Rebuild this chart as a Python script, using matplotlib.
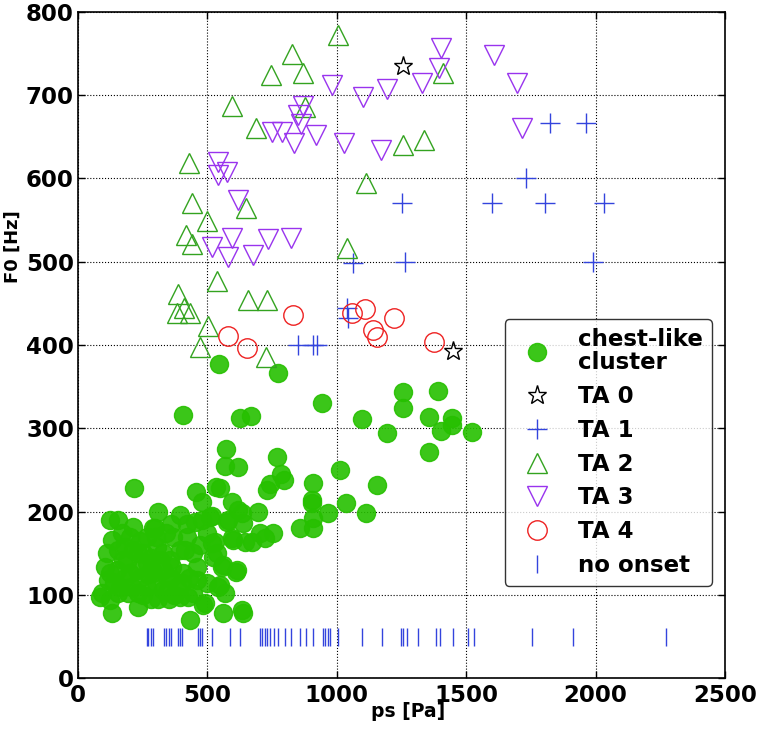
import matplotlib
matplotlib.use("Agg")
import matplotlib.pyplot as plt
import numpy as np

# chest-like cluster (green filled circles)
chest_x = [546, 771, 404, 625, 667, 944, 1096, 1195, 1257, 1257,
           1392, 1357, 1444, 1401, 1444, 1521, 1357,
           571, 568, 617, 770, 786, 796, 741, 731,
           1012, 909, 902, 905, 1154, 1034, 1112, 967, 909, 909, 857,
           216, 455, 480, 533, 548, 593, 619, 694, 516, 574, 638,
           754, 703, 722, 671, 593, 529, 535, 561, 610, 548, 568,
           497, 484, 561, 636, 432,
           310, 394, 452, 213, 291, 123, 155, 130, 155, 104, 123,
           85, 123, 132, 233, 194, 265, 329, 394, 445,
           213, 252, 304, 355, 394, 419, 265, 226, 291, 342, 406,
           458, 445, 368, 175, 265, 316, 381, 162, 200, 458,
           632, 645, 613, 297, 181, 117, 91, 156, 233, 349, 426,
           542, 555, 516, 362, 284, 413, 600, 580, 510, 522, 490, 632,
           180, 210, 240, 270, 300, 330, 360, 250, 280, 310, 350,
           150, 190, 230, 280, 330, 300, 240, 200, 170, 110, 140,
           370, 400, 430, 470, 500, 480, 420, 360, 340]
chest_y = [377, 366, 316, 312, 315, 331, 311, 294, 344, 325,
           345, 314, 313, 297, 304, 296, 272,
           275, 255, 254, 266, 245, 238, 233, 226,
           250, 235, 214, 210, 232, 211, 199, 198, 192, 180, 181,
           229, 224, 212, 230, 228, 212, 202, 200, 195, 188, 186,
           174, 174, 168, 164, 168, 164, 150, 136, 128, 112, 102,
           114, 88, 78, 78, 70,
           200, 196, 188, 182, 180, 190, 190, 166, 154, 134, 126,
           98, 94, 78, 86, 102, 110, 106, 98, 102,
           154, 150, 158, 142, 154, 170, 170, 130, 126, 122, 126,
           134, 150, 170, 142, 138, 142, 110, 110, 126, 118,
           198, 164, 130, 180, 158, 118, 102, 102, 102, 106, 98,
           110, 134, 162, 134, 130, 154, 166, 190, 194, 146, 90, 82,
           120, 110, 120, 125, 115, 130, 120, 100, 95, 95, 95,
           130, 140, 150, 145, 150, 170, 165, 170, 175, 150, 115,
           100, 115, 120, 160, 175, 190, 185, 185, 175]

ta0_x = [1257, 1450]
ta0_y = [735, 393]

ta1_x = [1823, 1961, 1731, 1250, 1600, 1804, 2033, 1263, 1991, 1063,
         1038, 1044, 851, 909, 925]
ta1_y = [667, 667, 600, 571, 571, 571, 571, 500, 500, 499,
         444, 432, 400, 400, 400]

ta2_x = [1005, 828, 745, 868, 596, 877, 686, 428, 1257, 1338,
         1111, 439, 648, 497, 417, 439, 1038, 538, 387, 381,
         432, 655, 729, 503, 471, 725, 1409, 410]
ta2_y = [772, 749, 724, 726, 687, 686, 661, 618, 640, 646,
         594, 570, 564, 549, 532, 521, 516, 477, 461, 438,
         438, 454, 454, 423, 398, 386, 727, 445]

ta3_x = [982, 1102, 1195, 1330, 1402, 1396, 1608, 1695, 1714, 870,
         851, 860, 750, 787, 835, 918, 1027, 1170, 539, 542,
         574, 617, 596, 519, 578, 677, 735, 821]
ta3_y = [712, 698, 707, 714, 756, 732, 748, 714, 660, 687,
         676, 665, 656, 656, 642, 652, 642, 634, 620, 604,
         608, 574, 528, 518, 506, 508, 527, 528]

ta4_x = [578, 654, 832, 1057, 1109, 1221, 1141, 1154, 1376]
ta4_y = [411, 397, 436, 438, 443, 433, 418, 410, 404]

no_onset_x = [265, 271, 280, 291, 333, 340, 353, 358, 387, 394, 403, 465,
              471, 480, 516, 587, 626, 703, 709, 722, 731, 741, 757, 774,
              800, 821, 857, 881, 906, 947, 954, 967, 973, 1005, 1096, 1173,
              1247, 1254, 1270, 1315, 1382, 1398, 1450, 1508, 1530, 1753,
              1913, 2272]
no_onset_level = 50

x_ticks = [0, 500, 1000, 1500, 2000, 2500]
y_ticks = [0, 100, 200, 300, 400, 500, 600, 700, 800]

plt.rcParams['font.family'] = ['DejaVu Sans']
plt.rcParams['font.weight'] = 'bold'

fig = plt.figure(figsize=(7.59, 7.34), dpi=100)
ax = fig.add_axes([0.1029, 0.0757, 0.8523, 0.9083])

green = '#26c000'
ax.plot(chest_x, chest_y, 'o', color=green, mec=green, ms=13, alpha=0.9,
        ls='none', label='chest-like\ncluster')
ax.plot(ta0_x, ta0_y, '*', mfc='none', mec='black', mew=1.0, ms=14,
        ls='none', label='TA 0')
ax.plot(ta1_x, ta1_y, '+', color='#3344dd', mew=1.0, ms=14,
        ls='none', label='TA 1')
ax.plot(ta2_x, ta2_y, '^', mfc='none', mec='#33a320', mew=1.0, ms=14,
        ls='none', label='TA 2')
ax.plot(ta3_x, ta3_y, 'v', mfc='none', mec='#9933ee', mew=1.0, ms=14,
        ls='none', label='TA 3')
ax.plot(ta4_x, ta4_y, 'o', mfc='none', mec='#ee2222', mew=1.0, ms=14,
        ls='none', label='TA 4')
ax.plot(no_onset_x, [no_onset_level] * len(no_onset_x), '|', color='#3344dd',
        mew=1.0, ms=13.5, ls='none', label='no onset')

ax.set_xlim(0, 2500)
ax.set_ylim(0, 800)
ax.set_xticks(x_ticks)
ax.set_yticks(y_ticks)
ax.grid(True, color='black', linestyle=':', linewidth=0.8)
ax.tick_params(direction='in', top=True, right=True, length=5, width=1,
               labelsize=16.5)
ax.tick_params(axis='x', pad=4)
ax.tick_params(axis='y', pad=3)
for lab in ax.get_xticklabels() + ax.get_yticklabels():
    lab.set_fontweight('bold')
for sp in ax.spines.values():
    sp.set_linewidth(1.2)

ax.set_xlabel('ps [Pa]', fontsize=13.5, fontweight='bold')
ax.set_ylabel('F0 [Hz]', fontsize=13, fontweight='bold')
ax.xaxis.set_label_coords(0.51, -0.036)
ax.yaxis.set_label_coords(-0.087, 0.647)

leg = ax.legend(loc='lower right', bbox_to_anchor=(0.98, 0.1386),
                borderaxespad=0, numpoints=1, fancybox=True,
                prop={'size': 16.5, 'weight': 'bold'}, labelspacing=0.47,
                handletextpad=0.8, handlelength=2.0, borderpad=0.4)
leg.get_frame().set_edgecolor('black')
leg.get_frame().set_linewidth(1.0)
leg.get_texts()[0].set_linespacing(1.0)

fig.savefig('out.png', dpi=100)
